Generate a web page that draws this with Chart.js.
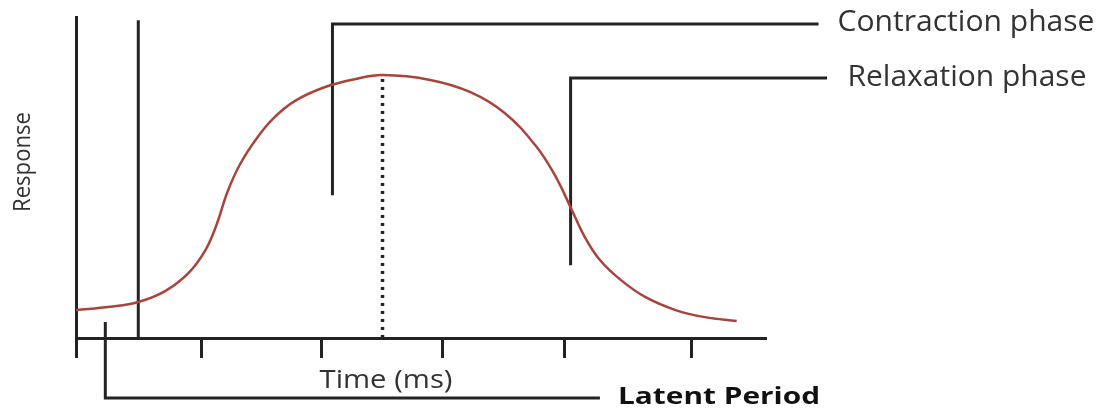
<!DOCTYPE html>
<html>
<head>
<meta charset="utf-8">
<title>Muscle twitch</title>
<script src="https://cdn.jsdelivr.net/npm/chart.js@4.4.1/dist/chart.umd.min.js"></script>
<style>
  body { margin: 0; background: #fff; }
  canvas { display: block; }
</style>
</head>
<body>
<canvas id="twitch" width="1105" height="408"></canvas>
<script>
// time in ms, response in arbitrary units (100 = top of the axis)
const time = [0, 2.8, 5.1, 7.3, 9.2, 10.6, 11.5, 12.4, 13.4, 14.7, 16.1, 17.9, 20.4, 22.9, 25.1,
  29.0, 32.3, 35.1, 37.6, 39.2, 40.6, 41.7, 42.9, 44.6, 46.6, 49.1, 51.5, 54.1];
const response = [8.7, 9.7, 11.2, 14.6, 20.2, 27.4, 35.2, 45.5, 53.9, 61.7, 68.2, 73.8, 78.2, 80.7, 81.9,
  80.4, 76.6, 70.1, 60.1, 50.8, 39.9, 31.2, 24.3, 18.1, 12.8, 8.7, 6.5, 5.3];
const xTicks = [0, 10.3, 20.1, 30, 40, 50.4];

const stimulusLine = [[5.1, 0], [5.1, 99]];
const peakLine = [[25.1, 0], [25.1, 81.9]];
const contractionLine = [[21.0, 44.5], [21.0, 97.8], [60.8, 97.8]];
const relaxationLine = [[40.5, 22.7], [40.5, 81.0], [61.5, 81.0]];
const latentLine = [[2.4, 5.0], [2.4, -18.7], [42.9, -18.7]];

const ink = '#232323';

const toPts = arr => arr.map(p => ({ x: p[0], y: p[1] }));

function guide(data, dash, width) {
  return {
    data: toPts(data),
    borderColor: ink,
    borderWidth: width || 3,
    borderDash: dash || [],
    pointRadius: 0,
    tension: 0,
    clip: false
  };
}

// labels are drawn straight on the canvas, stretched to the widths in the picture
const textLabels = {
  id: 'textLabels',
  afterDraw(chart) {
    const ctx = chart.ctx;
    const put = (text, x, y, width, font, color, rotate) => {
      ctx.save();
      ctx.font = font;
      ctx.fillStyle = color;
      ctx.textBaseline = 'middle';
      ctx.textAlign = 'center';
      const w = ctx.measureText(text).width;
      ctx.translate(x, y);
      if (rotate) ctx.rotate(-Math.PI / 2);
      ctx.scale(width / w, 1);
      ctx.fillText(text, 0, 0);
      ctx.restore();
    };
    put('Contraction phase', 966, 23, 257, '29px "Open Sans"', '#333');
    put('Relaxation phase', 967, 78, 239, '29px "Open Sans"', '#333');
    put('Time (ms)', 386, 381, 133, '25px "Open Sans"', '#333');
    put('Latent Period', 719, 397, 202, 'bold 24px "Open Sans"', '#111');
    put('Response', 23, 162, 100, '24px "Open Sans"', '#333', true);
  }
};

new Chart(document.getElementById('twitch'), {
  type: 'line',
  data: {
    datasets: [
      {
        data: time.map((t, i) => ({ x: t, y: response[i] })),
        borderColor: '#a9443a',
        borderWidth: 2.5,
        pointRadius: 0,
        tension: 0.4,
        clip: false
      },
      guide(stimulusLine),
      guide(peakLine, [3, 5], 3.5),
      guide(contractionLine),
      guide(relaxationLine),
      guide(latentLine)
    ]
  },
  options: {
    responsive: false,
    animation: false,
    events: [],
    layout: { padding: { left: 76, right: 339, top: 17, bottom: 50 } },
    plugins: { legend: { display: false }, tooltip: { enabled: false } },
    scales: {
      x: {
        type: 'linear',
        min: 0,
        max: 56.5,
        afterBuildTicks: s => { s.ticks = xTicks.map(v => ({ value: v })); },
        afterFit: s => { s.height = 20; },
        ticks: { display: false },
        grid: { drawOnChartArea: false, drawTicks: true, tickLength: 20, tickWidth: 3, tickColor: ink },
        border: { display: true, width: 3, color: ink }
      },
      y: {
        min: 0,
        max: 100,
        afterFit: s => { s.width = 0; },
        ticks: { display: false },
        grid: { display: false },
        border: { display: true, width: 3, color: ink }
      }
    }
  },
  plugins: [textLabels]
});
</script>
</body>
</html>
